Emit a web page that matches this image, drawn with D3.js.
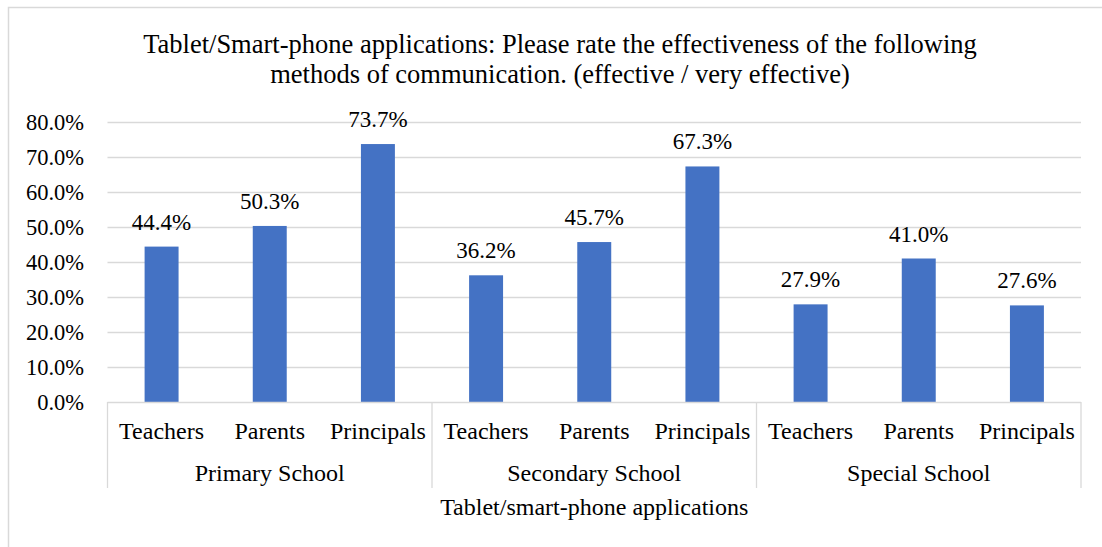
<!DOCTYPE html>
<html>
<head>
<meta charset="utf-8">
<script src="https://cdn.jsdelivr.net/npm/d3@7"></script>
<style>
  html, body { margin: 0; padding: 0; background: #ffffff; }
  svg, svg text { font-family: "Liberation Serif", "Times New Roman", serif !important; fill: #000; }
</style>
</head>
<body>
<svg id="chart" width="1102" height="547"></svg>
<script>
// Chart data
const groups = ["Primary School", "Secondary School", "Special School"];
const roles = ["Teachers", "Parents", "Principals"];
const primaryValues = [44.4, 50.3, 73.7];
const secondaryValues = [36.2, 45.7, 67.3];
const specialValues = [27.9, 41.0, 27.6];
const yTicks = [0, 10, 20, 30, 40, 50, 60, 70, 80];
const titleLines = [
  "Tablet/Smart-phone applications: Please rate the effectiveness of the following",
  "methods of communication. (effective / very effective)"
];
const axisTitle = "Tablet/smart-phone applications";

const groupValues = [primaryValues, secondaryValues, specialValues];
const rows = [];
groups.forEach((g, gi) => roles.forEach((r, ri) => rows.push({ key: g + "|" + r, group: g, role: r, value: groupValues[gi][ri] })));

const svg = d3.select("#chart");
const W = 1102, H = 547;
const plot = { left: 107.5, right: 1081, top: 122, bottom: 402 };
const serif = "Liberation Serif";
const grid = "#d9d9d9";
const barColor = "#4472c4";

// Outer chart frame
svg.append("rect")
  .attr("x", 8.5).attr("y", 7.5)
  .attr("width", W).attr("height", H)
  .attr("fill", "none").attr("stroke", grid).attr("stroke-width", 1.5);

const y = d3.scaleLinear().domain([0, 80]).range([plot.bottom, plot.top]);
const x = d3.scaleBand()
  .domain(rows.map(d => d.key))
  .range([plot.left, plot.right])
  .paddingInner(0.686).paddingOuter(0.343);
const xGroup = d3.scaleBand().domain(groups).range([plot.left, plot.right]);

// Gridlines
svg.append("g").selectAll("line").data(yTicks.filter(t => t > 0)).join("line")
  .attr("x1", plot.left).attr("x2", plot.right)
  .attr("y1", d => Math.round(y(d)) + 0.5).attr("y2", d => Math.round(y(d)) + 0.5)
  .attr("stroke", grid).attr("stroke-width", 1.3);

// Y axis labels
const yAxis = d3.axisLeft(y).tickValues(yTicks).tickSize(0).tickPadding(0)
  .tickFormat(d => d.toFixed(1) + "%");
const gy = svg.append("g").attr("transform", "translate(84,0)").call(yAxis)
  .attr("font-family", serif).attr("font-size", 22.5);
gy.select(".domain").remove();
gy.selectAll("text")
  .attr("font-family", serif)
  .attr("font-size", 22.5)
  .attr("dy", "0.33em");

// Bars
svg.append("g").selectAll("rect").data(rows).join("rect")
  .attr("x", d => x(d.key))
  .attr("width", x.bandwidth())
  .attr("y", d => y(d.value))
  .attr("height", d => y(0) - y(d.value))
  .attr("fill", barColor);

// Value labels
svg.append("g").selectAll("text").data(rows).join("text")
  .attr("x", d => x(d.key) + x.bandwidth() / 2)
  .attr("y", d => y(d.value) - 17)
  .attr("text-anchor", "middle")
  .attr("font-family", serif)
  .attr("font-size", 23)
  .text(d => d.value.toFixed(1) + "%");

// Category axis line and group separators
svg.append("line")
  .attr("x1", plot.left).attr("x2", plot.right)
  .attr("y1", plot.bottom + 0.5).attr("y2", plot.bottom + 0.5)
  .attr("stroke", grid).attr("stroke-width", 1.3);
const seps = groups.map(g => xGroup(g)).concat([plot.right]);
svg.append("g").selectAll("line").data(seps).join("line")
  .attr("x1", d => d).attr("x2", d => d)
  .attr("y1", plot.bottom).attr("y2", 488)
  .attr("stroke", grid).attr("stroke-width", 1.3);

// Role labels
svg.append("g").selectAll("text").data(rows).join("text")
  .attr("x", d => x(d.key) + x.bandwidth() / 2)
  .attr("y", 439)
  .attr("text-anchor", "middle")
  .attr("font-family", serif)
  .attr("font-size", 24)
  .text(d => d.role);

// Group labels
svg.append("g").selectAll("text").data(groups).join("text")
  .attr("x", d => xGroup(d) + xGroup.bandwidth() / 2)
  .attr("y", 481)
  .attr("text-anchor", "middle")
  .attr("font-family", serif)
  .attr("font-size", 24)
  .text(d => d);

// Axis title
svg.append("text")
  .attr("x", (plot.left + plot.right) / 2)
  .attr("y", 515)
  .attr("text-anchor", "middle")
  .attr("font-family", serif)
  .attr("font-size", 24)
  .text(axisTitle);

// Chart title
svg.append("g").selectAll("text").data(titleLines).join("text")
  .attr("x", 560)
  .attr("y", (d, i) => 53 + i * 30)
  .attr("text-anchor", "middle")
  .attr("font-family", serif)
  .attr("font-size", 26.5)
  .text(d => d);
</script>
</body>
</html>
